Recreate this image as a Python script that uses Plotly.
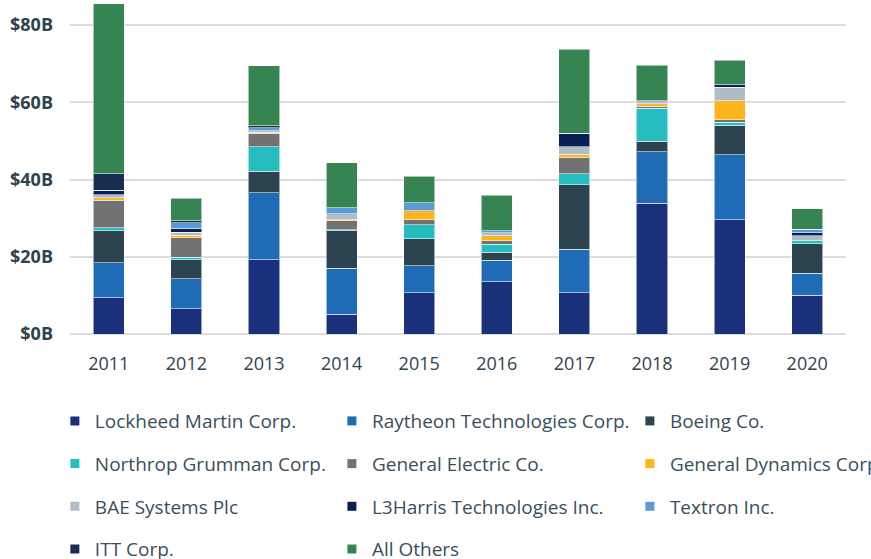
import plotly.graph_objects as go

# ---------------------------------------------------------
# DATA (US$ billions)
# ---------------------------------------------------------
years = ["2011", "2012", "2013", "2014", "2015", "2016", "2017", "2018", "2019", "2020"]

lockheed   = [9.4, 6.6, 19.2, 5.1, 10.7, 13.5, 10.7, 33.9, 29.6, 10.0]
raytheon   = [9.0, 7.7, 17.4, 11.9, 7.0, 5.6, 11.2, 13.3, 16.8, 5.7]
boeing     = [8.4, 4.9, 5.5, 9.8, 7.0, 2.1, 16.8, 2.7, 7.7, 7.7]
northrop   = [0.7, 0.7, 6.4, 0.2, 3.6, 2.1, 2.8, 8.6, 0.8, 0.7]
ge         = [7.1, 5.0, 3.5, 2.4, 1.3, 0.8, 4.3, 0.5, 0.6, 0.0]
gd         = [0.7, 0.7, 0.2, 0.2, 2.3, 1.3, 0.7, 0.7, 4.9, 0.0]
bae        = [0.8, 0.7, 0.5, 1.6, 0.0, 0.8, 2.0, 0.7, 3.5, 1.4]
l3harris   = [1.2, 1.1, 0.0, 0.0, 0.0, 0.0, 3.5, 0.0, 0.7, 0.7]
textron    = [0.0, 1.4, 0.7, 1.5, 2.1, 0.6, 0.0, 0.0, 0.0, 0.9]
itt        = [4.2, 0.6, 0.6, 0.0, 0.0, 0.0, 0.0, 0.0, 0.0, 0.0]
all_others = [44.1, 5.8, 15.5, 11.6, 6.8, 9.1, 21.7, 9.2, 6.3, 5.3]

y_ticks = [0, 20, 40, 60, 80]
y_tick_labels = ["$0B", "$20B", "$40B", "$60B", "$80B"]

series = [
    ("Lockheed Martin Corp.", lockheed, "#1b307a", "legend"),
    ("Raytheon Technologies Corp.", raytheon, "#1f6bb6", "legend2"),
    ("Boeing Co.", boeing, "#2c4450", "legend3"),
    ("Northrop Grumman Corp.", northrop, "#25bdc0", "legend"),
    ("General Electric Co.", ge, "#727272", "legend2"),
    ("General Dynamics Corp.", gd, "#fdb51d", "legend3"),
    ("BAE Systems Plc", bae, "#b0bdc7", "legend"),
    ("L3Harris Technologies Inc.", l3harris, "#0a1f54", "legend2"),
    ("Textron Inc.", textron, "#5b9bd5", "legend3"),
    ("ITT Corp.", itt, "#1a2e52", "legend"),
    ("All Others", all_others, "#358452", "legend2"),
]

TEXT = "#2e4350"
LEGEND_TEXT = "#3a4f5c"

fig = go.Figure()

for name, vals, color, leg in series:
    fig.add_trace(go.Bar(
        x=years, y=vals, name=name,
        marker=dict(color=color, line=dict(color="rgba(255,255,255,0.55)", width=1)),
        showlegend=False,
    ))
    # legend-only entry with a small square symbol
    fig.add_trace(go.Scatter(
        x=[None], y=[None], mode="markers", name=name,
        marker=dict(symbol="square", size=9, color=color),
        legend=leg, legendgroup=name, showlegend=True,
    ))

legend_common = dict(
    orientation="v", yanchor="top", xanchor="left",
    font=dict(family="Open Sans", size=19, color=LEGEND_TEXT),
    tracegroupgap=15, bgcolor="rgba(0,0,0,0)", traceorder="grouped",
)

fig.update_layout(
    width=871, height=559,
    paper_bgcolor="white", plot_bgcolor="white",
    barmode="stack", bargap=0.6,
    margin=dict(l=70, r=25, t=2, b=225, autoexpand=False),
    font=dict(family="Open Sans", color=TEXT),
    legend=dict(x=-0.0195, y=-0.205, **legend_common),
    legend2=dict(x=0.3375, y=-0.205, **legend_common),
    legend3=dict(x=0.7215, y=-0.205, **legend_common),
    xaxis=dict(
        type="category", showgrid=False, showline=False, ticks="",
        tickfont=dict(size=18, color=TEXT), ticklabelstandoff=17,
    ),
    yaxis=dict(
        range=[0, 86], tickvals=y_ticks, ticktext=y_tick_labels,
        showgrid=True, gridcolor="#dcdcdc", gridwidth=1.5,
        zeroline=True, zerolinecolor="#dcdcdc", zerolinewidth=1.5,
        showline=False, ticks="",
        tickfont=dict(size=18, color=TEXT, weight="bold"), ticklabelstandoff=16,
    ),
)

config = {"displayModeBar": False}

# page default body margin would offset the figure by 8px
fig.write_html("out.html", config=config,
               post_script="document.body.style.margin='0';")
